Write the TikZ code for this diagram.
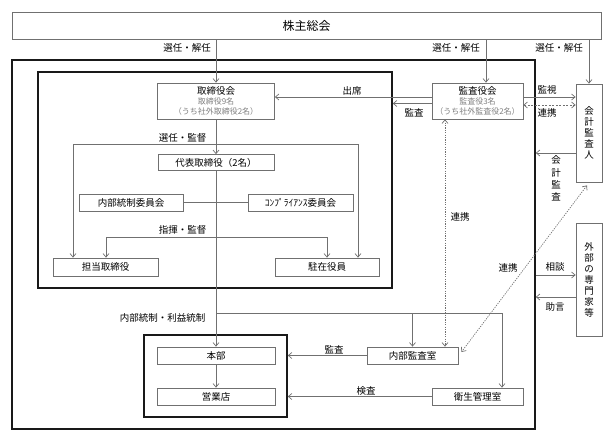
\documentclass[tikz,border=0pt]{standalone}
\usepackage{fontspec}
\newfontfamily\jp{Noto Sans CJK JP}
\usetikzlibrary{arrows.meta,calc}
\definecolor{linec}{HTML}{707070}
\definecolor{boxc}{HTML}{707070}
\definecolor{subc}{HTML}{808080}
\begin{document}
\begin{tikzpicture}[x=1pt,y=-1pt,
  every node/.style={font=\jp\fontsize{9.5}{11}\selectfont, inner sep=0pt, text=black},
  box/.style={draw=boxc, line width=0.8pt, fill=white},
  thickbox/.style={draw=black!90, line width=1.6pt},
  conn/.style={draw=linec, line width=0.7pt},
  arr/.style={conn, -{Straight Barb[length=3.5pt,width=6pt]}},
  arrboth/.style={conn, {Straight Barb[length=3.5pt,width=6pt]}-{Straight Barb[length=3.5pt,width=6pt]}},
  dotconn/.style={arrboth, dash pattern=on 1.2pt off 1.2pt},
  subtext/.style={font=\jp\fontsize{8}{10}\selectfont}]
\useasboundingbox (0,0) rectangle (615,442);

% frames
\node[thickbox, minimum width=523, minimum height=369] (outer) at (273.5,244.5) {};
\node[thickbox, minimum width=354, minimum height=216] (inner) at (215,180) {};
\node[thickbox, minimum width=143, minimum height=82] (lower) at (215.5,376) {};

% boxes
\node[box, minimum width=589, minimum height=27, font=\jp\fontsize{12}{14}\selectfont] (sh) at (306.5,25.5) {株主総会};
\node[box, minimum width=117, minimum height=36, align=center] (tori) at (216,101)
  {取締役会\\[-1pt]{\color{subc}\fontsize{8}{10}\selectfont 取締役9名}\\[-1pt]{\color{subc}\fontsize{8}{10}\selectfont （うち社外取締役2名）}};
\node[box, minimum width=91, minimum height=36, align=center] (kansa) at (477.5,101)
  {監査役会\\[-1pt]{\color{subc}\fontsize{8}{10}\selectfont 監査役3名}\\[-1pt]{\color{subc}\fontsize{8}{10}\selectfont （うち社外監査役2名）}};
\node[box, minimum width=26, minimum height=98, align=center] (kaikei) at (589,133) {会\\計\\監\\査\\人};
\node[box, minimum width=116, minimum height=16] (daihyo) at (216,162.5) {代表取締役（2名）};
\node[box, minimum width=104, minimum height=17] (naibu) at (131,202.5) {内部統制委員会};
\node[box, minimum width=105, minimum height=17] (comp) at (300.5,202.5) {ｺﾝﾌﾟﾗｲｱﾝｽ委員会};
\node[box, minimum width=105, minimum height=18] (tanto) at (105.5,267) {担当取締役};
\node[box, minimum width=104, minimum height=18] (chuzai) at (327,267) {駐在役員};
\node[box, minimum width=26, minimum height=113, align=center] (gaibu) at (589,279.5) {外\\部\\の\\専\\門\\家\\等};
\node[box, minimum width=118, minimum height=17] (honbu) at (216,355.5) {本部};
\node[box, minimum width=118, minimum height=17] (eigyo) at (216,396.5) {営業店};
\node[box, minimum width=91, minimum height=17] (naikan) at (412.5,355.5) {内部監査室};
\node[box, minimum width=91, minimum height=17] (eisei) at (477.5,396.5) {衛生管理室};

% connectors from shareholders
\coordinate (k1) at ([xshift=8.5pt]kansa.north);
\draw[arr] (sh.south -| tori.north) -- (tori.north);
\draw[arr] (sh.south -| k1) -- (k1);
\draw[arr] (sh.south -| kaikei.north) -- (kaikei.north);
\node[anchor=east] (l1) at (211,48) {選任・解任};
\node[anchor=east] (l2) at (480,48) {選任・解任};
\node[anchor=east] (l3) at (583,48) {選任・解任};

% board structure
\draw[arr] (tori.south) -- (daihyo.north);
\coordinate (sk1) at (73,144);
\coordinate (sk2) at (358,144);
\draw[arrboth] (tanto.north -| sk1) -- (sk1) -- (sk2) -- (chuzai.north -| sk2);
\node (l4) at (182.5,138) {選任・監督};
\coordinate (sd1) at (106,237);
\coordinate (sd2) at (327,237);
\draw[arrboth] (tanto.north -| sd1) -- (sd1) -- (sd2) -- (chuzai.north -| sd2);
\node (l5) at (182.5,230) {指揮・監督};
\draw[conn] (naibu.east) -- (comp.west);
\draw[arr] (daihyo.south) -- (honbu.north);
\coordinate (nb) at (502,313);
\draw[arr] (daihyo.south |- nb) -- (nb) -- (eisei.north -| nb);
\draw[arr] (naikan.north |- nb) -- (naikan.north);
\node (l6) at (162.5,318) {内部統制・利益統制};
\draw[arr] (honbu.south) -- (eigyo.north);
\draw[arr] (naikan.west) -- (naikan.west -| lower.east);
\draw[arr] (eisei.west) -- (eisei.west -| lower.east);
\node (l7) at (334,350) {監査};
\node (l8) at (366,391) {検査};

% audit board
\coordinate (ka1) at ([yshift=4pt]kansa.west);
\coordinate (ka2) at ([yshift=-2.5pt]kansa.west);
\coordinate (ka3) at ([yshift=4pt]kansa.east);
\coordinate (ka4) at ([yshift=-4pt]kansa.east);
\draw[arr] (ka1) -- (ka1 -| tori.east);
\draw[arr] (ka2) -- (ka2 -| inner.east);
\draw[arr] (ka3) -- (ka3 -| kaikei.west);
\draw[arrboth, dash pattern=on 2pt off 1.5pt] (ka4) -- (ka4 -| kaikei.west);
\node (l9) at (352,91) {出席};
\node (l10) at (414,113) {監査};
\node (l11) at (547,90) {監視};
\node (l12) at (547,113) {連携};

% external auditor
\coordinate (kk) at ([yshift=-20pt]kaikei.west);
\draw[arr] (kk) -- (kk -| outer.east);
\node[align=center, font=\jp\fontsize{9.5}{12.3}\selectfont] (l13) at (556,178.5) {会\\計\\監\\査};
\coordinate (r1) at ([xshift=-32.5pt]kansa.south);
\draw[dotconn] (r1) -- (r1 |- naikan.north);
\node (l14) at (460,217) {連携};
\draw[dotconn] ([shift={(-2pt,-3pt)}]kaikei.south) -- ([shift={(3pt,3.5pt)}]naikan.east);
\node (l15) at (508,268) {連携};

% external experts
\coordinate (g1) at ([yshift=4.5pt]gaibu.west);
\coordinate (g2) at ([yshift=-17.5pt]gaibu.west);
\draw[arr] (g1 -| outer.east) -- (g1);
\draw[arr] (g2) -- (g2 -| outer.east);
\node (l16) at (555,267) {相談};
\node (l17) at (555,307) {助言};
\end{tikzpicture}
\end{document}
